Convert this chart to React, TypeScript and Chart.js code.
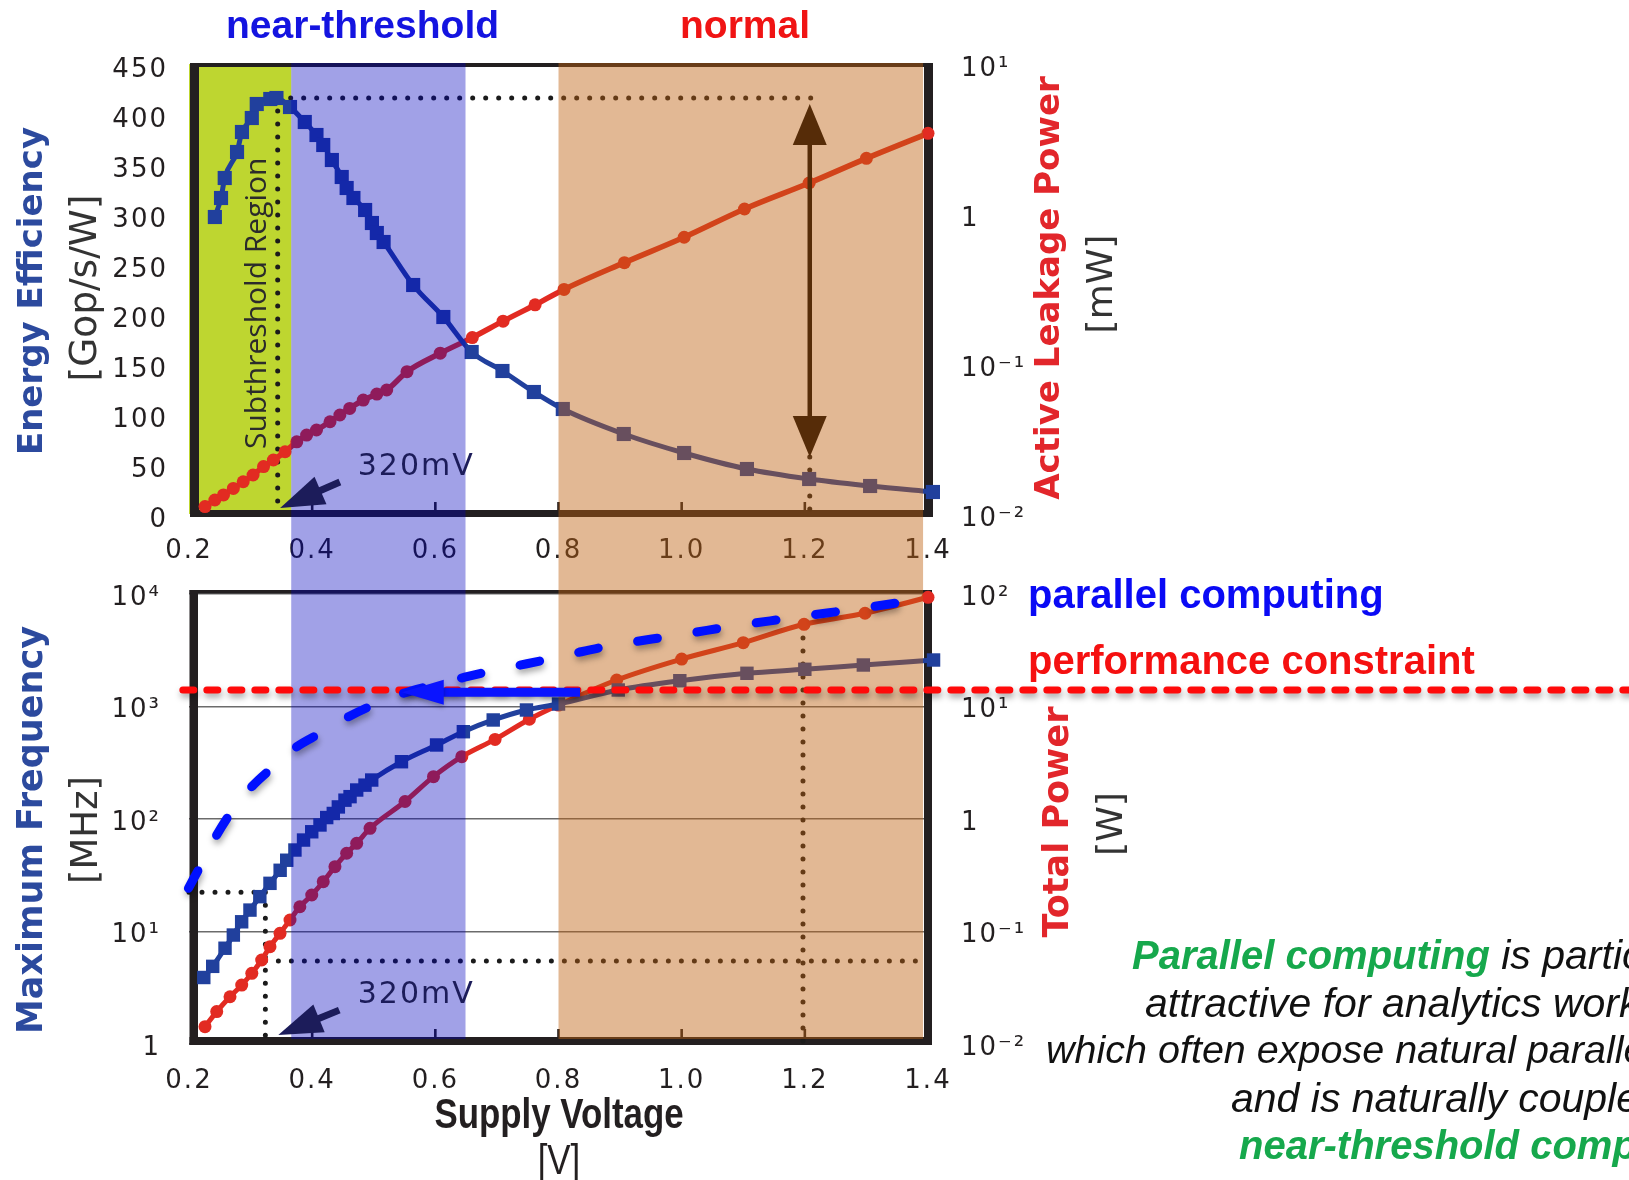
import { useEffect, useRef } from 'react';
import { Chart, registerables } from 'chart.js';

Chart.register(...registerables);

// ===== axis ticks =====
const voltageTicks = [0.2, 0.4, 0.6, 0.8, 1.0, 1.2, 1.4];
const voltageTickLabels = ['0.2', '0.4', '0.6', '0.8', '1.0', '1.2', '1.4'];
const efficiencyTicks = [0, 50, 100, 150, 200, 250, 300, 350, 400, 450];
const efficiencyTickLabels = ['0', '50', '100', '150', '200', '250', '300', '350', '400', '450'];
const leakageTicks = [0.01, 0.1, 1, 10];
const leakageTickLabels = ['10\u207B\u00B2', '10\u207B\u00B9', '1', '10\u00B9'];
const frequencyTicks = [1, 10, 100, 1000, 10000];
const frequencyTickLabels = ['1', '10\u00B9', '10\u00B2', '10\u00B3', '10\u2074'];
const powerTicks = [0.01, 0.1, 1, 10, 100];
const powerTickLabels = ['10\u207B\u00B2', '10\u207B\u00B9', '1', '10\u00B9', '10\u00B2'];

// ===== top panel series =====
const effVoltage = [0.242, 0.252, 0.258, 0.278, 0.286, 0.302, 0.31, 0.332, 0.342, 0.364, 0.388, 0.407, 0.418, 0.432, 0.448, 0.456, 0.467, 0.486, 0.497, 0.505, 0.516, 0.564, 0.613, 0.659, 0.709, 0.76, 0.807, 0.906, 1.004, 1.106, 1.207, 1.306, 1.408];
const effValues = [297, 316, 336, 362, 382, 396, 410, 415, 416, 407, 392, 379, 369, 354, 337, 326, 316, 304, 291, 281, 272, 229, 197, 162, 143, 122, 105, 80, 61, 45, 35, 28, 22];

const leakVoltage = [0.226, 0.242, 0.256, 0.272, 0.288, 0.304, 0.321, 0.337, 0.356, 0.375, 0.391, 0.407, 0.429, 0.445, 0.461, 0.483, 0.505, 0.521, 0.554, 0.608, 0.66, 0.71, 0.762, 0.809, 0.907, 1.004, 1.102, 1.207, 1.3, 1.4];
const leakValues = [0.0112, 0.0124, 0.0134, 0.0148, 0.0164, 0.0182, 0.0207, 0.0229, 0.026, 0.0303, 0.0336, 0.0363, 0.0412, 0.0457, 0.0506, 0.0575, 0.063, 0.0671, 0.0889, 0.118, 0.15, 0.193, 0.248, 0.314, 0.474, 0.7, 1.08, 1.61, 2.35, 3.45];

// ===== bottom panel series =====
const freqVoltage = [0.224, 0.2385, 0.2585, 0.272, 0.2855, 0.299, 0.315, 0.3315, 0.348, 0.3587, 0.372, 0.386, 0.3993, 0.4127, 0.4236, 0.4343, 0.4425, 0.4533, 0.4615, 0.4723, 0.4858, 0.4967, 0.545, 0.602, 0.6455, 0.694, 0.748, 0.8, 0.897, 0.997, 1.106, 1.2, 1.295, 1.409];
const freqValues = [3.9, 4.9, 7.1, 9.3, 12.2, 15.5, 20.4, 26.8, 35, 43, 53, 65, 77, 88.5, 103, 112, 128, 147, 158, 181, 200, 222, 323, 455, 597, 759, 931, 1052, 1402, 1695, 1973, 2141, 2338, 2590];

const powerVoltage = [0.226, 0.245, 0.2666, 0.2856, 0.302, 0.318, 0.3315, 0.3478, 0.364, 0.38, 0.3993, 0.418, 0.437, 0.456, 0.4723, 0.494, 0.5508, 0.597, 0.643, 0.697, 0.7527, 0.8, 0.8945, 1.0, 1.1, 1.1987, 1.2977, 1.4];
const powerValues = [0.01425, 0.0194, 0.0263, 0.0334, 0.0425, 0.0558, 0.0733, 0.0964, 0.1265, 0.166, 0.211, 0.277, 0.377, 0.496, 0.608, 0.827, 1.43, 2.38, 3.58, 5.1, 7.7, 10.3, 17.2, 26.4, 36.9, 53.8, 67.4, 93.5];

const parallelVoltage = [0.199, 0.221, 0.245, 0.269, 0.302, 0.334, 0.375, 0.413, 0.459, 0.499, 0.548, 0.589, 0.64, 0.686, 0.735, 0.781, 0.83, 0.876, 0.924, 0.97, 1.022, 1.068, 1.116, 1.165, 1.211, 1.26, 1.309, 1.357];
const parallelFreq = [24.2, 40.4, 72, 116, 194, 282, 439, 578, 811, 1031, 1309, 1514, 1778, 2042, 2317, 2612, 3006, 3400, 3767, 4120, 4570, 5020, 5495, 5990, 6510, 7060, 7709, 8440];

const constraintFrequency = 1400;
const constraintVoltage = [0.19, 2.6];
const constraintArrowFrequency = 1340;
const constraintArrowVoltage = [0.835, 0.5455];

// ===== regions & annotations (data units) =====
const subthresholdRegion = [0.2, 0.366];
const nearThresholdRegion = [0.366, 0.649];
const normalRegion = [0.8, 1.392];

const peakVoltage = 0.344;
const peakEfficiency = 416;
const peakLineEndVoltage = 1.213;
const gapArrowVoltage = 1.208;
const gapArrowEfficiency = [410, 57];
const subthresholdLabelAt = [0.325, 210.7];

const mvTopArrow = { tip: [0.348, 6], tail: [0.445, 32], label: [0.474, 47] };
const mvBottomArrow = { tip: [0.345, 1.2], tail: [0.444, 2.0], label: [0.474, 2.73] };

const freqMarkLevel = 22.3;
const freqMarkVoltage = 0.324;
const powerMarkLevel = 0.0547;
const powerMarkEndVoltage = 1.382;
const powerDropVoltage = 1.197;
const powerDropTop = 53;

// ===== styles =====
const INK = '#231f20';
const BLUE_LINE = '#21409d';
const RED_LINE = '#e22b22';
const GREEN_BAND = '#bed630';
const BLUE_OVERLAY = 'rgba(0,0,190,0.37)';
const BROWN_OVERLAY = 'rgba(190,97,17,0.45)';
const NAVY = '#1c1c5a';
const TITLE_BLUE = '#2c4a9e';
const TITLE_RED = '#e2262b';
const SPLIT_Y = 554;
const TICK_FONT = { family: 'DejaVu Sans', size: 26 };

const pts = (xs: number[], ys: number[]) => xs.map((x, i) => ({ x, y: ys[i] }));

function txt(ctx: any, s: string, x: number, y: number, font: string, color: string, rot = 0, align = 'center', baseline = 'middle', spacing = 0) {
  ctx.save();
  ctx.translate(x, y);
  if (rot) ctx.rotate(rot);
  ctx.font = font;
  ctx.fillStyle = color;
  ctx.textAlign = align;
  ctx.textBaseline = baseline;
  try { ctx.letterSpacing = spacing + 'px'; } catch (e) { /* ignore */ }
  ctx.fillText(s, 0, 0);
  ctx.restore();
}

function head(ctx: any, tx: number, ty: number, fx: number, fy: number, len: number, half: number) {
  const a = Math.atan2(ty - fy, tx - fx);
  const bx = tx - Math.cos(a) * len;
  const by = ty - Math.sin(a) * len;
  const nx = -Math.sin(a);
  const ny = Math.cos(a);
  ctx.beginPath();
  ctx.moveTo(tx, ty);
  ctx.lineTo(bx + nx * half, by + ny * half);
  ctx.lineTo(bx - nx * half, by - ny * half);
  ctx.closePath();
  ctx.fill();
}

function arrow(ctx: any, x0: number, y0: number, x1: number, y1: number, color: string, width: number, len: number, half: number, both = false) {
  const a = Math.atan2(y1 - y0, x1 - x0);
  ctx.save();
  ctx.strokeStyle = color;
  ctx.fillStyle = color;
  ctx.lineWidth = width;
  ctx.lineCap = 'butt';
  const sx = both ? x0 + Math.cos(a) * len * 0.8 : x0;
  const sy = both ? y0 + Math.sin(a) * len * 0.8 : y0;
  ctx.beginPath();
  ctx.moveTo(sx, sy);
  ctx.lineTo(x1 - Math.cos(a) * len * 0.8, y1 - Math.sin(a) * len * 0.8);
  ctx.stroke();
  head(ctx, x1, y1, x0, y0, len, half);
  if (both) head(ctx, x0, y0, x1, y1, len, half);
  ctx.restore();
}

function frame(chart: any, o: any) {
  const { ctx, chartArea: a } = chart;
  const L = a.left + o.l, R = a.right + o.r, T = a.top + o.t, B = a.bottom + o.b;
  ctx.save();
  ctx.fillStyle = INK;
  ctx.fillRect(L, T, o.lw, B - T);
  ctx.fillRect(R - o.rw, T, o.rw, B - T);
  ctx.fillRect(L, T, R - L, o.tw);
  ctx.fillRect(L, B - o.bw, R - L, o.bw);
  const xs = chart.scales.x;
  voltageTicks.slice(1, -1).forEach((v) => {
    const x = xs.getPixelForValue(v);
    ctx.fillRect(x - 1.3, B - o.bw - 8, 2.6, 8);
  });
  ctx.restore();
}

function overlays(chart: any, yTop: number, yBot: number) {
  const { ctx } = chart;
  const xs = chart.scales.x;
  ctx.save();
  ([[nearThresholdRegion, BLUE_OVERLAY], [normalRegion, BROWN_OVERLAY]] as any[]).forEach(([r, c]) => {
    const a = xs.getPixelForValue(r[0]);
    const b = xs.getPixelForValue(r[1]);
    ctx.fillStyle = c;
    ctx.fillRect(a, yTop, b - a, yBot - yTop);
  });
  ctx.restore();
}

function mvArrow(chart: any, spec: any, yId: string) {
  const { ctx } = chart;
  const xs = chart.scales.x, ys = chart.scales[yId];
  const tx = xs.getPixelForValue(spec.tip[0]), ty = ys.getPixelForValue(spec.tip[1]);
  const fx = xs.getPixelForValue(spec.tail[0]), fy = ys.getPixelForValue(spec.tail[1]);
  arrow(ctx, fx, fy, tx, ty, NAVY, 7, 44, 15);
  txt(ctx, '320mV', xs.getPixelForValue(spec.label[0]), ys.getPixelForValue(spec.label[1]), '30px "DejaVu Sans"', NAVY, 0, 'left', 'middle', 2);
}

const spacingHooks = {
  beforeDraw(chart: any) { try { chart.ctx.letterSpacing = '2px'; } catch (e) { /* ignore */ } },
};

const resetSpacing = (chart: any) => { try { chart.ctx.letterSpacing = '0px'; } catch (e) { /* ignore */ } };

const shadowHooks = {
  beforeDatasetDraw(chart: any, args: any) {
    const ds: any = chart.data.datasets[args.index];
    if (ds.layer === 'top' && !chart.$overlaid) {
      overlays(chart, SPLIT_Y, chart.chartArea.bottom - 5);
      chart.$overlaid = true;
    }
    if (ds.shadow) {
      const ctx = chart.ctx;
      ctx.save();
      ctx.shadowColor = 'rgba(0,0,0,0.35)';
      ctx.shadowBlur = 6;
      ctx.shadowOffsetX = 1;
      ctx.shadowOffsetY = 4;
    }
  },
  afterDatasetDraw(chart: any, args: any) {
    const ds: any = chart.data.datasets[args.index];
    if (ds.shadow) chart.ctx.restore();
  },
};

const topPlugin = {
  id: 'topDeco',
  ...spacingHooks,
  beforeDatasetsDraw(chart: any) {
    resetSpacing(chart);
    const { ctx, chartArea: a } = chart;
    const xs = chart.scales.x, ys = chart.scales.y;
    const g0 = xs.getPixelForValue(subthresholdRegion[0]);
    const g1 = xs.getPixelForValue(subthresholdRegion[1]);
    ctx.save();
    ctx.fillStyle = GREEN_BAND;
    ctx.fillRect(g0, a.top, g1 - g0, a.bottom - a.top);
    ctx.restore();
    txt(ctx, 'Subthreshold Region', xs.getPixelForValue(subthresholdLabelAt[0]), ys.getPixelForValue(subthresholdLabelAt[1]), '30px "Open Sans"', '#2b2b2b', -Math.PI / 2, 'center', 'alphabetic');
    frame(chart, { l: 1, r: 5, t: -1, b: 3, lw: 9, rw: 9, tw: 4, bw: 7 });
  },
  afterDatasetsDraw(chart: any) {
    const { ctx, chartArea: a } = chart;
    const xs = chart.scales.x, ys = chart.scales.y;
    const x = xs.getPixelForValue(gapArrowVoltage);
    arrow(ctx, x, ys.getPixelForValue(gapArrowEfficiency[0]), x, ys.getPixelForValue(gapArrowEfficiency[1]), '#000', 4.5, 41, 17, true);
    overlays(chart, a.top - 1, SPLIT_Y);
    mvArrow(chart, mvTopArrow, 'y');
  },
  afterDraw(chart: any) {
    const { ctx } = chart;
    txt(ctx, 'Energy Efficiency', 33, 291, 'bold 34px "DejaVu Sans"', TITLE_BLUE, -Math.PI / 2);
    txt(ctx, '[Gop/s/W]', 86, 288, '37.5px "DejaVu Sans"', '#333', -Math.PI / 2);
    txt(ctx, 'Active Leakage Power', 1050, 288, 'bold 34px "DejaVu Sans"', TITLE_RED, -Math.PI / 2);
    txt(ctx, '[mW]', 1103, 284, '36px "DejaVu Sans"', '#333', -Math.PI / 2);
  },
};

const bottomPlugin = {
  id: 'bottomDeco',
  ...spacingHooks,
  beforeDatasetsDraw(chart: any) {
    resetSpacing(chart);
    chart.$overlaid = false;
    frame(chart, { l: 0.5, r: 4, t: -4, b: 1, lw: 8.5, rw: 8, tw: 3.5, bw: 8 });
  },
  ...shadowHooks,
  afterDatasetsDraw(chart: any) {
    const { ctx } = chart;
    if (!chart.$overlaid) overlays(chart, SPLIT_Y, chart.chartArea.bottom - 5);
    const xs = chart.scales.x, ys = chart.scales.y;
    const y = ys.getPixelForValue(constraintArrowFrequency);
    ctx.save();
    ctx.shadowColor = 'rgba(0,0,0,0.3)';
    ctx.shadowBlur = 5;
    ctx.shadowOffsetY = 3;
    arrow(ctx, xs.getPixelForValue(constraintArrowVoltage[0]), y, xs.getPixelForValue(constraintArrowVoltage[1]), y, '#0a14ff', 9, 42, 12.5);
    ctx.restore();
    mvArrow(chart, mvBottomArrow, 'y');
  },
  afterDraw(chart: any) {
    const { ctx } = chart;
    txt(ctx, 'Maximum Frequency', 33, 830, 'bold 35px "DejaVu Sans"', TITLE_BLUE, -Math.PI / 2);
    txt(ctx, '[MHz]', 87, 830, '37px "DejaVu Sans"', '#333', -Math.PI / 2);
    txt(ctx, 'Total Power', 1059, 822, 'bold 35px "DejaVu Sans"', TITLE_RED, -Math.PI / 2);
    txt(ctx, '[W]', 1113, 824, '36px "DejaVu Sans"', '#333', -Math.PI / 2);
  },
};

const dotted = (data: any[], yAxisID: string, order: number) => ({
  data, yAxisID, order,
  borderColor: '#1b1b1b', borderWidth: 5, borderDash: [0, 13], borderCapStyle: 'round',
  pointRadius: 0, fill: false, clip: false, tension: 0,
});

const xScale = (pad: number) => ({
  type: 'linear', position: 'bottom', min: 0.2, max: 1.4,
  afterBuildTicks: (s: any) => { s.ticks = voltageTicks.map((value) => ({ value })); },
  afterFit: (s: any) => { s.height = 60; },
  grid: { display: false, drawTicks: false }, border: { display: false },
  ticks: { callback: (_v: any, i: number) => voltageTickLabels[i], padding: pad, autoSkip: false, maxRotation: 0, color: INK, font: TICK_FONT },
});

const yScale = (type: string, position: string, min: number, max: number, ticks: number[], labels: string[], width: number, pad: number, grid: any, offset: number) => ({
  type, position, min, max,
  afterBuildTicks: (s: any) => { s.ticks = ticks.map((value) => ({ value })); },
  afterFit: (s: any) => { s.width = width; },
  grid: { drawTicks: false, ...grid }, border: { display: false },
  ticks: { callback: (_v: any, i: number) => labels[i], padding: pad, autoSkip: false, color: INK, font: TICK_FONT, labelOffset: offset },
});

function topConfig(): any {
  return {
    type: 'line',
    data: {
      datasets: [
        { label: 'Energy Efficiency', data: pts(effVoltage, effValues), yAxisID: 'y', order: 1,
          borderColor: BLUE_LINE, backgroundColor: BLUE_LINE, borderWidth: 5, pointStyle: 'rect', pointRadius: 10, pointBorderWidth: 0,
          cubicInterpolationMode: 'monotone', clip: false },
        { label: 'Active Leakage Power', data: pts(leakVoltage, leakValues), yAxisID: 'y1', order: 2,
          borderColor: RED_LINE, backgroundColor: RED_LINE, borderWidth: 5.5, pointStyle: 'circle', pointRadius: 6.5, pointBorderWidth: 0,
          cubicInterpolationMode: 'monotone', clip: false },
        dotted([{ x: peakVoltage, y: peakEfficiency }, { x: peakLineEndVoltage, y: peakEfficiency }], 'y', 5),
        dotted([{ x: peakVoltage, y: peakEfficiency }, { x: peakVoltage, y: 0 }], 'y', 6),
        dotted([{ x: gapArrowVoltage, y: gapArrowEfficiency[1] }, { x: gapArrowVoltage, y: 0 }], 'y', 7),
      ],
    },
    options: {
      responsive: false, animation: false, events: [],
      layout: { padding: { left: 0, top: 64, right: 581, bottom: 606 } },
      plugins: { legend: { display: false }, tooltip: { enabled: false } },
      scales: {
        x: xScale(22),
        y: yScale('linear', 'left', 0, 450, efficiencyTicks, efficiencyTickLabels, 189, 21, { display: false }, 6),
        y1: yScale('logarithmic', 'right', 0.01, 10, leakageTicks, leakageTickLabels, 120, 33, { display: false }, 5),
      },
    },
    plugins: [topPlugin],
  };
}

function bottomConfig(): any {
  return {
    type: 'line',
    data: {
      datasets: [
        { label: 'parallel computing', data: pts(parallelVoltage, parallelFreq), yAxisID: 'y', order: 1, layer: 'top', shadow: true,
          borderColor: '#0010ff', borderWidth: 9, borderDash: [20, 40], borderCapStyle: 'round', pointRadius: 0,
          cubicInterpolationMode: 'monotone', clip: false },
        { label: 'performance constraint', data: constraintVoltage.map((x) => ({ x, y: constraintFrequency })), yAxisID: 'y', order: 2, layer: 'top', shadow: true,
          borderColor: '#ff0a0a', borderWidth: 7, borderDash: [11, 13], borderCapStyle: 'round', pointRadius: 0, clip: false },
        { label: 'Maximum Frequency', data: pts(freqVoltage, freqValues), yAxisID: 'y', order: 10,
          borderColor: BLUE_LINE, backgroundColor: BLUE_LINE, borderWidth: 5, pointStyle: 'rect', pointRadius: 9.5, pointBorderWidth: 0,
          cubicInterpolationMode: 'monotone', clip: false },
        { label: 'Total Power', data: pts(powerVoltage, powerValues), yAxisID: 'y1', order: 11,
          borderColor: RED_LINE, backgroundColor: RED_LINE, borderWidth: 5, pointStyle: 'circle', pointRadius: 6.5, pointBorderWidth: 0,
          cubicInterpolationMode: 'monotone', clip: false },
        dotted([{ x: 0.2, y: freqMarkLevel }, { x: freqMarkVoltage, y: freqMarkLevel }], 'y', 20),
        dotted([{ x: freqMarkVoltage, y: freqMarkLevel }, { x: freqMarkVoltage, y: 1 }], 'y', 21),
        dotted([{ x: freqMarkVoltage, y: powerMarkLevel }, { x: powerMarkEndVoltage, y: powerMarkLevel }], 'y1', 22),
        dotted([{ x: powerDropVoltage, y: powerDropTop }, { x: powerDropVoltage, y: 0.01 }], 'y1', 23),
      ],
    },
    options: {
      responsive: false, animation: false, events: [],
      layout: { padding: { left: 0, top: 594, right: 581, bottom: 76 } },
      plugins: { legend: { display: false }, tooltip: { enabled: false } },
      scales: {
        x: xScale(22),
        y: yScale('logarithmic', 'left', 1, 10000, frequencyTicks, frequencyTickLabels, 189, 28,
          { display: true, color: 'rgba(70,70,70,0.8)', lineWidth: 1.5 }, 4),
        y1: yScale('logarithmic', 'right', 0.01, 100, powerTicks, powerTickLabels, 120, 33, { display: false }, 4),
      },
    },
    plugins: [bottomPlugin],
  };
}

function Label(p: any) {
  const center = p.align === 'center';
  return (
    <div style={{
      position: 'absolute', left: p.x, top: p.y,
      transform: `translate(${center ? '-50%' : '0'}, -50%)${p.sx ? ` scaleX(${p.sx})` : ''}`,
      transformOrigin: center ? '50% 50%' : '0 50%',
      whiteSpace: 'nowrap', lineHeight: 1,
      fontFamily: '"Liberation Sans", Arial, sans-serif',
      fontSize: p.size, fontWeight: p.bold ? 700 : 400, fontStyle: p.italic ? 'italic' : 'normal',
      color: p.color,
    }}>{p.children}</div>
  );
}

const GREEN_TEXT = '#16a84c';

export default function App() {
  const topRef = useRef<HTMLCanvasElement>(null);
  const botRef = useRef<HTMLCanvasElement>(null);

  useEffect(() => {
    const c1 = new Chart(topRef.current as HTMLCanvasElement, topConfig());
    const c2 = new Chart(botRef.current as HTMLCanvasElement, bottomConfig());
    return () => { c1.destroy(); c2.destroy(); };
  }, []);

  const canvasStyle: any = { position: 'absolute', left: 0, top: 0, width: 1629, height: 1180 };
  const greenBold = { color: GREEN_TEXT, fontWeight: 700, fontSize: 40 };

  return (
    <div style={{ position: 'absolute', left: 0, top: 0, width: 1629, height: 1180, overflow: 'hidden', background: '#fff' }}>
      <canvas ref={topRef} width={1629} height={1180} style={canvasStyle} />
      <canvas ref={botRef} width={1629} height={1180} style={canvasStyle} />

      <Label x={226} y={24} size={39} bold color="#1414e0">near-threshold</Label>
      <Label x={680} y={24} size={39} bold color="#f01414">normal</Label>
      <Label x={1028} y={594} size={40} bold color="#0a0af5">parallel computing</Label>
      <Label x={1028} y={660} size={40} bold color="#f51010">performance constraint</Label>

      <Label x={1132} y={955} size={41} italic color="#111"><span style={greenBold}>Parallel computing</span> is particularly</Label>
      <Label x={1145} y={1003} size={41} italic color="#111">attractive for analytics workloads,</Label>
      <Label x={1046} y={1050} size={39.5} italic color="#111">which often expose natural parallelism,</Label>
      <Label x={1231} y={1098} size={41} italic color="#111">and is naturally coupled with</Label>
      <Label x={1239} y={1145} size={40} italic bold color={GREEN_TEXT}>near-threshold computing.</Label>

      <Label x={559} y={1114} size={42} bold align="center" sx={0.83} color={INK}>Supply Voltage</Label>
      <Label x={559} y={1160} size={42} align="center" sx={0.83} color={INK}>[V]</Label>
    </div>
  );
}
